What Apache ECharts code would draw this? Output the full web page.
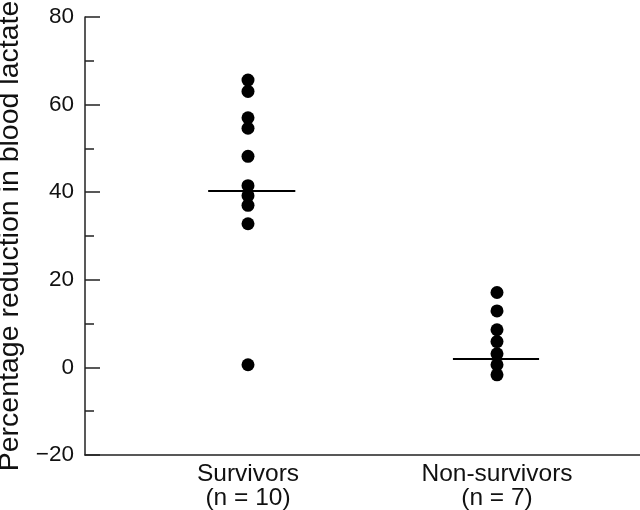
<!DOCTYPE html>
<html><head><meta charset="utf-8">
<script src="https://cdn.jsdelivr.net/npm/echarts@6/dist/echarts.min.js"></script>
<style>html,body{margin:0;padding:0;background:#fff}#c{width:640px;height:510px}</style>
</head><body><div id="c"></div>
<script>
// ---- data ----
const categories = ['Survivors\n(n = 10)', 'Non-survivors\n(n = 7)'];
const categoryPos = [1, 2];
const survivors = [65.6, 63.0, 57.0, 54.6, 48.2, 41.5, 39.2, 37.0, 32.8, 0.6];
const nonSurvivors = [17.1, 12.9, 8.6, 5.9, 3.1, 0.6, -1.7];
const medians = [40.3, 1.9];
const yMin = -20, yMax = 80, yStep = 20;
const yTitle = 'Percentage reduction in blood lactate';

// ---- layout ----
const FONT = '"Liberation Sans", Arial, sans-serif';
const lineExtent = [[0.16, 0.19], [0.177, 0.169]];

const chart = echarts.init(document.getElementById('c'), null, {renderer: 'canvas'});
const groups = [survivors, nonSurvivors];
const series = [];
groups.forEach((vals, i) => {
  series.push({
    type: 'scatter',
    data: vals.map(v => [categoryPos[i], v]),
    symbol: 'circle',
    symbolSize: 13,
    itemStyle: {color: '#000', opacity: 1},
    silent: true,
    z: 3
  });
  series.push({
    type: 'line',
    data: [[categoryPos[i] - lineExtent[i][0], medians[i]], [categoryPos[i] + lineExtent[i][1], medians[i]]],
    symbol: 'none',
    lineStyle: {color: '#000', width: 2},
    silent: true,
    z: 4
  });
});

chart.setOption({
  animation: false,
  backgroundColor: '#fff',
  grid: {left: 85, right: 0, top: 17, bottom: 55, containLabel: false, outerBoundsMode: 'none'},
  xAxis: {
    type: 'value',
    min: 0.3454, max: 2.5743,
    splitLine: {show: false},
    axisLine: {show: true, onZero: false, lineStyle: {color: '#222', width: 1.5}},
    axisTick: {show: false},
    axisLabel: {
      customValues: categoryPos,
      formatter: v => categories[categoryPos.indexOf(Math.round(v))] || '',
      color: '#111', fontFamily: FONT, fontSize: 24.5, lineHeight: 24, margin: 7
    }
  },
  yAxis: {
    type: 'value',
    min: yMin, max: yMax, interval: yStep,
    name: yTitle,
    nameLocation: 'middle',
    nameGap: 58,
    nameTextStyle: {color: '#111', fontFamily: FONT, fontSize: 28.5},
    splitLine: {show: false},
    axisLine: {show: true, onZero: false, lineStyle: {color: '#222', width: 1.5}},
    axisTick: {show: true, inside: true, length: 15, lineStyle: {color: '#222', width: 1.5}},
    minorTick: {show: true, splitNumber: 2, length: 9, lineStyle: {color: '#222', width: 1.5}},
    axisLabel: {
      color: '#111', fontFamily: FONT, fontSize: 22.5, margin: 11,
      formatter: v => (v < 0 ? '\u2212' + Math.abs(v) : String(v))
    }
  },
  series: series
});
</script></body></html>
